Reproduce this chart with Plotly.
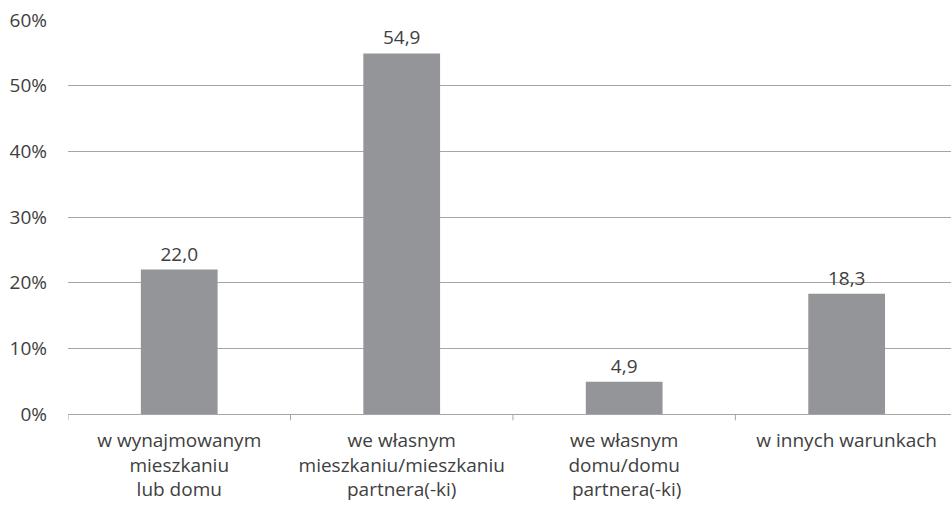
import plotly.graph_objects as go

categories = [
    "w wynajmowanym<br>mieszkaniu<br>lub domu",
    "we własnym<br>mieszkaniu/mieszkaniu<br>partnera(-ki)",
    "we własnym<br>domu/domu<br>\u00a0partnera(-ki)",
    "w innych warunkach",
]
values = [22.0, 54.9, 4.9, 18.3]
y_ticks = [0, 10, 20, 30, 40, 50, 60]

font_family = "'Open Sans', sans-serif"
text_color = "#404040"
fsize = 19

fig = go.Figure(
    go.Bar(
        x=list(range(len(categories))),
        y=values,
        marker=dict(color="#939598", line=dict(width=0)),
        width=0.345,
        texttemplate="%{y:.1f}",
        textposition="outside",
        textfont=dict(family=font_family, size=fsize, color=text_color),
        cliponaxis=False,
    )
)

fig.update_layout(
    width=951,
    height=509,
    margin=dict(l=68, r=0, t=20, b=95),
    paper_bgcolor="white",
    plot_bgcolor="white",
    separators=", ",
    showlegend=False,
    font=dict(family=font_family, size=fsize, color=text_color),
)

fig.update_xaxes(
    type="linear",
    range=[-0.5, 3.469],
    tickmode="array",
    tickvals=[0, 1, 2, 3],
    ticktext=categories,
    showgrid=False,
    showline=True,
    linecolor="#a6a6a6",
    linewidth=1,
    ticks="",
    ticklabelstandoff=9,
    tickfont=dict(family=font_family, size=fsize, color=text_color),
    zeroline=False,
    automargin=False,
)

# boundary tick marks between categories
for b in [-0.5, 0.5, 1.5, 2.5]:
    fig.add_shape(
        type="line",
        xref="x",
        yref="paper",
        x0=b,
        x1=b,
        y0=0,
        y1=-0.016,
        line=dict(color="#a6a6a6", width=1),
    )

fig.update_yaxes(
    range=[0, 60],
    tickmode="array",
    tickvals=y_ticks,
    ticktext=[f"{v}%" for v in y_ticks],
    showgrid=True,
    gridcolor="#a6a6a6",
    gridwidth=1,
    showline=False,
    zeroline=False,
    ticks="",
    ticklabelstandoff=20,
    tickfont=dict(family=font_family, size=fsize, color=text_color),
    automargin=False,
)

fig.write_html(
    "out.html",
    config={"displayModeBar": False},
    post_script="document.body.style.margin='0';document.body.style.overflow='hidden';",
)
